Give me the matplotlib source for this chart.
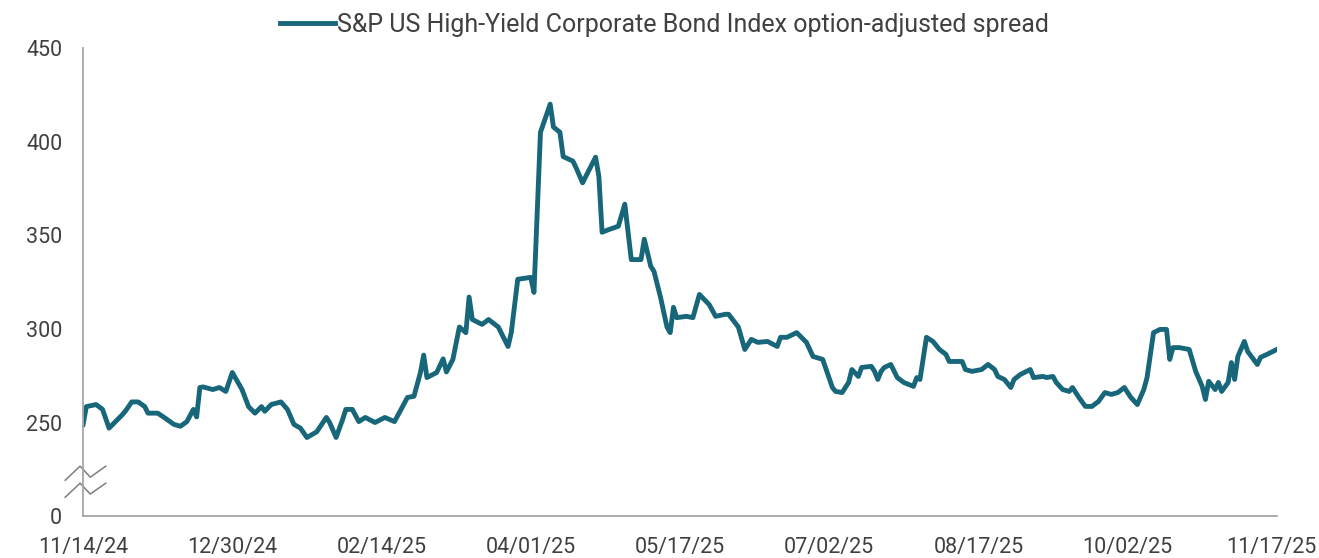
import matplotlib
matplotlib.use('Agg')
import matplotlib.pyplot as plt
import matplotlib.dates as mdates
import matplotlib.transforms as mtransforms
import pandas as pd

plt.rcParams['font.family'] = ['Roboto', 'DejaVu Sans']

dates = [
    '2024-11-14', '2024-11-15', '2024-11-18', '2024-11-20', '2024-11-22', '2024-11-24',
    '2024-11-26', '2024-11-27', '2024-11-29', '2024-12-01', '2024-12-03', '2024-12-04',
    '2024-12-07', '2024-12-09', '2024-12-12', '2024-12-14', '2024-12-16', '2024-12-18',
    '2024-12-19', '2024-12-20', '2024-12-21', '2024-12-24', '2024-12-26', '2024-12-28',
    '2024-12-30', '2025-01-02', '2025-01-04', '2025-01-06', '2025-01-08', '2025-01-09',
    '2025-01-11', '2025-01-14', '2025-01-16', '2025-01-18', '2025-01-20', '2025-01-22',
    '2025-01-25', '2025-01-28', '2025-01-29', '2025-01-31', '2025-02-02', '2025-02-03',
    '2025-02-05', '2025-02-07', '2025-02-09', '2025-02-12', '2025-02-15', '2025-02-18',
    '2025-02-20', '2025-02-22', '2025-02-24', '2025-02-26', '2025-02-27', '2025-02-28',
    '2025-03-03', '2025-03-05', '2025-03-06', '2025-03-08', '2025-03-10', '2025-03-12',
    '2025-03-13', '2025-03-14', '2025-03-17', '2025-03-19', '2025-03-22', '2025-03-25',
    '2025-03-26', '2025-03-28', '2025-04-01', '2025-04-02', '2025-04-04', '2025-04-07',
    '2025-04-08', '2025-04-10', '2025-04-11', '2025-04-14', '2025-04-15', '2025-04-17',
    '2025-04-18', '2025-04-21', '2025-04-22', '2025-04-23', '2025-04-25', '2025-04-28',
    '2025-04-30', '2025-05-02', '2025-05-05', '2025-05-06', '2025-05-08', '2025-05-09',
    '2025-05-11', '2025-05-13', '2025-05-14', '2025-05-15', '2025-05-16', '2025-05-19',
    '2025-05-21', '2025-05-23', '2025-05-26', '2025-05-28', '2025-05-31', '2025-06-01',
    '2025-06-04', '2025-06-06', '2025-06-08', '2025-06-10', '2025-06-13', '2025-06-16',
    '2025-06-17', '2025-06-19', '2025-06-22', '2025-06-25', '2025-06-27', '2025-06-30',
    '2025-07-03', '2025-07-04', '2025-07-06', '2025-07-08', '2025-07-09', '2025-07-11',
    '2025-07-12', '2025-07-15', '2025-07-16', '2025-07-17', '2025-07-18', '2025-07-19',
    '2025-07-21', '2025-07-23', '2025-07-25', '2025-07-28', '2025-07-29', '2025-07-30',
    '2025-08-01', '2025-08-03', '2025-08-05', '2025-08-07', '2025-08-08', '2025-08-10',
    '2025-08-12', '2025-08-13', '2025-08-15', '2025-08-18', '2025-08-20', '2025-08-22',
    '2025-08-23', '2025-08-25', '2025-08-27', '2025-08-28', '2025-08-30', '2025-09-02',
    '2025-09-03', '2025-09-06', '2025-09-07', '2025-09-09', '2025-09-10', '2025-09-12',
    '2025-09-14', '2025-09-15', '2025-09-17', '2025-09-19', '2025-09-21', '2025-09-23',
    '2025-09-25', '2025-09-27', '2025-09-29', '2025-10-01', '2025-10-03', '2025-10-05',
    '2025-10-07', '2025-10-08', '2025-10-10', '2025-10-12', '2025-10-14', '2025-10-15',
    '2025-10-16', '2025-10-18', '2025-10-21', '2025-10-23', '2025-10-25', '2025-10-26',
    '2025-10-27', '2025-10-29', '2025-10-30', '2025-10-31', '2025-11-02', '2025-11-03',
    '2025-11-04', '2025-11-05', '2025-11-07', '2025-11-08', '2025-11-11', '2025-11-12',
    '2025-11-14', '2025-11-17',
]

spread = [
    249, 258.5, 259.6, 257, 247, 250.5,
    254, 256, 261, 261, 258.5, 255,
    255, 252.7, 249, 248, 250.5, 257,
    253, 268.7, 269, 267.6, 268.7, 266.6,
    276.7, 267.6, 258.5, 255, 258.5, 256,
    259.6, 261, 257, 249, 247, 242,
    245, 252.7, 250, 242, 251.6, 257,
    257, 250.5, 252.7, 250, 252.7, 250.5,
    257, 263.4, 264, 276.7, 286, 274,
    276.7, 284, 277, 283.7, 301, 298,
    317, 305, 302.4, 305, 301, 290.6,
    298, 326.5, 327.5, 319.5, 405, 420,
    407.8, 405, 392, 389.6, 386, 378,
    381.5, 391.7, 381.5, 351.6, 353, 354.8,
    366.6, 337, 337, 347.9, 333.4, 330.7,
    317, 301, 298, 311.5, 306, 306.7,
    306, 318.4, 313, 306.7, 307.8, 307.8,
    301, 289, 294.4, 292.8, 293.3, 290.6,
    295.5, 295.5, 298, 292.8, 285.3, 283.7,
    268.7, 266.6, 266, 271.4, 278.3, 274.6,
    279.4, 280, 277.3, 273, 277.3, 279.4,
    281, 274, 271.4, 269.3, 274, 273,
    295.5, 293.3, 289, 286.4, 282.6, 282.6,
    282.6, 278.3, 277.3, 278.3, 281, 278.3,
    274.6, 273, 268.7, 273, 275.7, 278.3,
    274, 274.6, 274, 274.6, 271.4, 267.6,
    266.6, 268.7, 263.4, 258.6, 258.6, 261.2,
    266, 265, 266, 268.7, 263.4, 259.6,
    267.6, 274, 298, 299.7, 299.7, 283.7,
    290, 290, 289, 277.3, 269.3, 262.3,
    272, 267.6, 271.4, 266.6, 271.4, 282,
    273, 285.3, 293.3, 288, 281, 284.8,
    286.4, 289,
]

x_ticks = ['2024-11-14', '2024-12-30', '2025-02-14', '2025-04-01', '2025-05-17',
           '2025-07-02', '2025-08-17', '2025-10-02', '2025-11-17']
# axis is broken: the "0" tick sits one step below 250
y_ticks = [200, 250, 300, 350, 400, 450]
y_labels = ['0', '250', '300', '350', '400', '450']

series_name = 'S&P US High-Yield Corporate Bond Index option-adjusted spread'
line_color = '#176679'
text_color = '#404040'
axis_color = '#a6a6a6'

fig = plt.figure(figsize=(13.19, 5.58), dpi=100)
ax = fig.add_axes([0.063, 0.075, 0.905, 0.839])

ax.plot(pd.to_datetime(dates), spread, color=line_color, lw=3.5,
        solid_joinstyle='round', label=series_name)

ax.set_xlim(pd.Timestamp(x_ticks[0]), pd.Timestamp(x_ticks[-1]))
ax.set_xticks(pd.to_datetime(x_ticks))
ax.xaxis.set_major_formatter(mdates.DateFormatter('%m/%d/%y'))
ax.set_ylim(200, 450)
ax.set_yticks(y_ticks)
ax.set_yticklabels(y_labels)

for s in ['top', 'right']:
    ax.spines[s].set_visible(False)
for s in ['left', 'bottom']:
    ax.spines[s].set_color(axis_color)
    ax.spines[s].set_linewidth(1.3)

ax.tick_params(axis='both', length=0, labelsize=15.5, labelcolor=text_color)
ax.tick_params(axis='y', pad=15)
ax.tick_params(axis='x', pad=15)

# keep the last date label inside the canvas
last = ax.get_xticklabels()[-1]
last.set_transform(last.get_transform() +
                   mtransforms.ScaledTranslation(-5 / 100, 0, fig.dpi_scale_trans))

# axis break marks
trans = mtransforms.blended_transform_factory(ax.transAxes, ax.transData)
bx = [-0.015, -0.0025, 0.006, 0.019]
ax.plot(bx, [219.2, 226.7, 220.8, 226.7], color='#7f7f7f', lw=1.1,
        transform=trans, clip_on=False)
ax.plot(bx, [210.1, 217.6, 211.8, 217.6], color='#7f7f7f', lw=1.1,
        transform=trans, clip_on=False)

leg = ax.legend(loc='lower center', bbox_to_anchor=(0.487, 1.0), frameon=False,
                fontsize=18, handlelength=2.2, handletextpad=0.05,
                borderaxespad=0.05, labelcolor=text_color)

fig.savefig('out.png', dpi=100)
